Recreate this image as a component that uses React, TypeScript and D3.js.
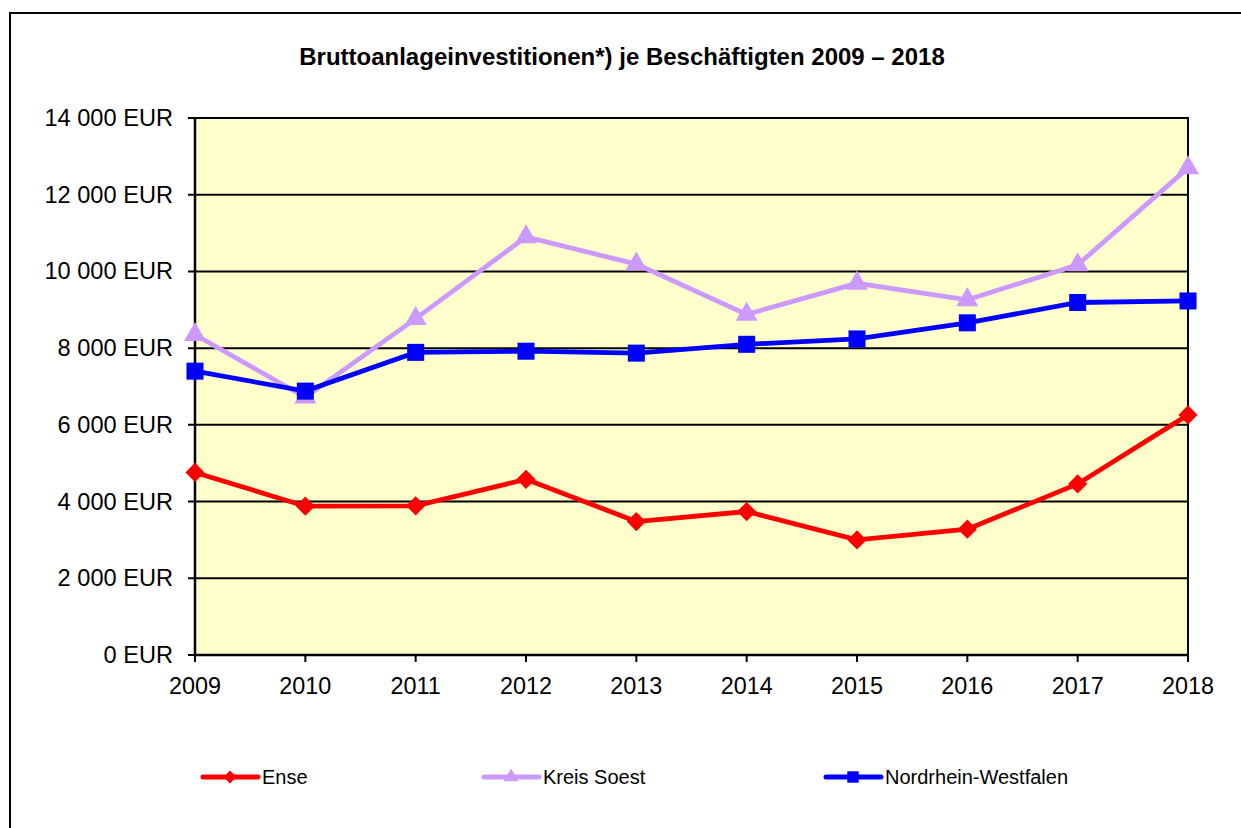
import React from "react";
import * as d3 from "d3";

const years = ["2009", "2010", "2011", "2012", "2013", "2014", "2015", "2016", "2017", "2018"];
const ense = [4760, 3880, 3890, 4580, 3480, 3740, 3000, 3280, 4460, 6260];
const kreisSoest = [8350, 6720, 8770, 10900, 10190, 8880, 9690, 9260, 10170, 12700];
const nrw = [7400, 6880, 7890, 7920, 7870, 8100, 8240, 8660, 9190, 9230];
const yTicks = [0, 2000, 4000, 6000, 8000, 10000, 12000, 14000];
const title = "Bruttoanlageinvestitionen*) je Beschäftigten 2009 – 2018";

const series = [
  { name: "Ense", values: ense, color: "#FF0000", marker: "diamond" },
  { name: "Kreis Soest", values: kreisSoest, color: "#CC99FF", marker: "triangle" },
  { name: "Nordrhein-Westfalen", values: nrw, color: "#0000FF", marker: "square" },
];

const fmt = (v: number) => {
  const s = String(v);
  return s.replace(/\B(?=(\d{3})+(?!\d))/g, " ") + " EUR";
};

const symbolFor = (m: string) =>
  m === "triangle" ? d3.symbolTriangle : d3.symbolSquare;
const sizeFor = (m: string) => (m === "diamond" ? 185 : m === "triangle" ? 210 : 290);
const rotFor = (m: string) => (m === "diamond" ? " rotate(45)" : "");

export default function App() {
  const W = 1241, H = 828;
  const left = 195, right = 1188, top = 118, bottom = 655;
  const x = d3.scalePoint<string>().domain(years).range([left, right]);
  const y = d3.scaleLinear().domain([0, 14000]).range([bottom, top]);
  const line = d3.line<number>().x((_, i) => x(years[i])!).y((v) => y(v));
  const font = "'Liberation Sans', Arial, sans-serif";
  const legendX = [203, 484, 826];
  const legendY = 777;

  return (
    <svg width={W} height={H} style={{ position: "absolute", left: 0, top: 0, background: "#fff" }} fontFamily={font}>
      <rect x={10} y={13} width={1240} height={830} fill="#fff" stroke="#000" strokeWidth={2} />
      <text x={622} y={65} textAnchor="middle" fontWeight="bold" fontSize={24}>{title}</text>
      <rect x={left} y={top} width={right - left} height={bottom - top} fill="#FFFFCC" stroke="#000" strokeWidth={2} />
      {yTicks.map((t) => (
        <g key={t}>
          <line x1={left - 7} x2={right} y1={y(t)} y2={y(t)} stroke="#000" strokeWidth={2} />
          <text x={173} y={y(t) + 8} textAnchor="end" fontSize={23.6}>{fmt(t)}</text>
        </g>
      ))}
      <line x1={left} x2={left} y1={top} y2={bottom} stroke="#000" strokeWidth={2.5} />
      <line x1={left} x2={right} y1={bottom} y2={bottom} stroke="#000" strokeWidth={2.5} />
      {years.map((yr) => (
        <g key={yr}>
          <line x1={x(yr)} x2={x(yr)} y1={bottom} y2={bottom + 7} stroke="#000" strokeWidth={2} />
          <text x={x(yr)} y={bottom + 39} textAnchor="middle" fontSize={23.4}>{yr}</text>
        </g>
      ))}
      {series.map((s) => (
        <g key={s.name}>
          <path d={line(s.values)!} fill="none" stroke={s.color} strokeWidth={4.8} />
          {s.values.map((v, i) => (
            <path
              key={i}
              transform={`translate(${x(years[i])},${y(v)})${rotFor(s.marker)}`}
              d={d3.symbol().type(symbolFor(s.marker)).size(sizeFor(s.marker))()!}
              fill={s.color}
            />
          ))}
        </g>
      ))}
      {series.map((s, i) => (
        <g key={s.name}>
          <line x1={legendX[i]} x2={legendX[i] + 55} y1={legendY} y2={legendY} stroke={s.color} strokeWidth={5} strokeLinecap="round" />
          <path
            transform={`translate(${legendX[i] + 27},${legendY})${rotFor(s.marker)}`}
            d={d3.symbol().type(symbolFor(s.marker)).size(sizeFor(s.marker) * 0.45)()!}
            fill={s.color}
          />
          <text x={legendX[i] + 59} y={legendY + 7} fontSize={20}>{s.name}</text>
        </g>
      ))}
    </svg>
  );
}
